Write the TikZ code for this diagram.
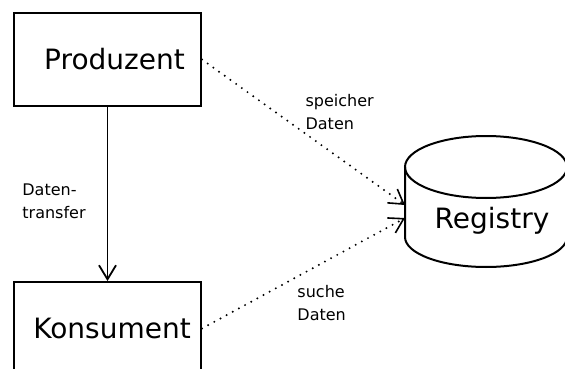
\documentclass[tikz,border=0pt]{standalone}
\usepackage{fontspec}
\setmainfont{DejaVu Sans}
\usetikzlibrary{arrows.meta,positioning}

\begin{document}
\begin{tikzpicture}[x=1pt, y=-1pt,
            node distance=174pt,
            box/.style={draw, line width=2pt, minimum width=187pt, minimum height=93pt,
                inner sep=0pt, font=\fontsize{28}{32}\selectfont}, % boxes for the two roles
            big/.style={inner sep=0pt, font=\fontsize{28}{32}\selectfont},
            wall/.style={line width=2pt},
            lbl/.style={align=left, inner sep=1pt, font=\fontsize{16}{23}\selectfont},
            flow/.style={line width=1.8pt, -{Straight Barb[length=14pt,width=17pt]}},
            query/.style={line width=2.2pt, line cap=round, dash pattern=on 0pt off 7pt,
                -{Straight Barb[length=14pt,width=17pt,line width=1.6pt]}},
        ]
        \useasboundingbox (0,0) rectangle (565,369);
        \node[box] (prod) at (107.5,59.5) {\hspace{14pt}Produzent};
        \node[box, below=174pt of prod] (kons) {\hspace{9pt}Konsument};
        % the registry drum
        \draw[wall] (405,167) -- (405,237) arc[start angle=180, end angle=0, x radius=81, y radius=30]
            -- (567,167);
        \draw[wall] (486,167) ellipse[x radius=81, y radius=31];
        \node[big] (reg) at (492,221) {Registry};
        \coordinate (reg in) at (405,205);
        \coordinate (reg out) at (405,218);
        \draw[flow] (prod) -- node[lbl, left=20pt, yshift=-7pt] {Daten-\\transfer} (kons);
        \draw
        (prod.east) edge[query] node[lbl, pos=.5, anchor=south west] {speicher\\Daten} (reg in)
        (kons.east) edge[query] node[lbl, pos=.46, anchor=north west, yshift=-6pt] {suche\\Daten} (reg out);
    \end{tikzpicture}
\end{document}
